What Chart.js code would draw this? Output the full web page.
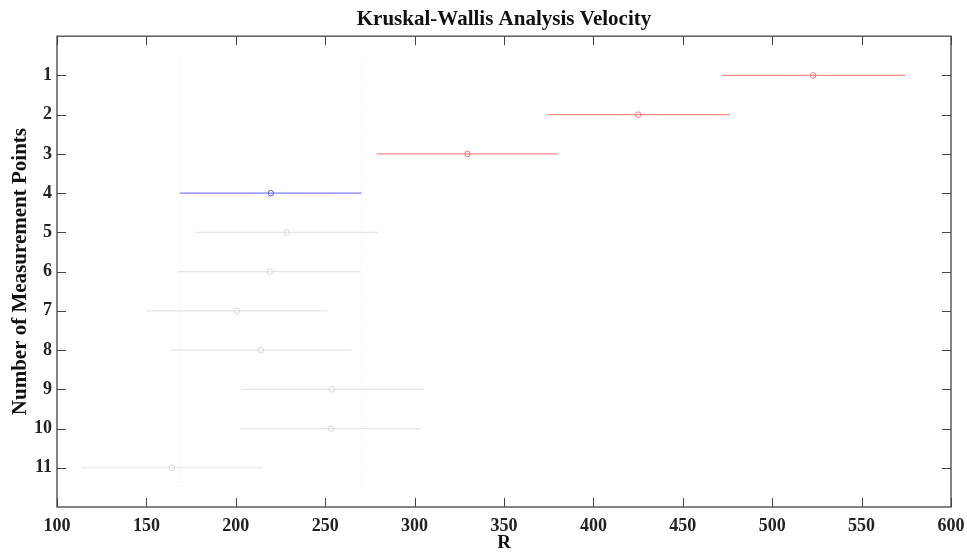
<!DOCTYPE html>
<html>
<head>
<meta charset="utf-8">
<script src="https://cdn.jsdelivr.net/npm/chart.js@4.4.1/dist/chart.umd.min.js"></script>
<style>
  html, body { margin: 0; padding: 0; background: #fff; }
  #wrap { width: 967px; height: 554px; }
</style>
</head>
<body>
<div id="wrap"><canvas id="kwChart" width="967" height="554"></canvas></div>
<script>
// groups (measurement points), top to bottom
const groups = [1, 2, 3, 4, 5, 6, 7, 8, 9, 10, 11];
// mean rank estimate and comparison interval for each group
const centers = [522.9, 425.1, 329.6, 219.6, 228.5, 219.0, 200.6, 214.0, 253.6, 253.1, 164.2];
const lowers  = [472.1, 374.3, 278.8, 168.7, 177.7, 167.6, 149.7, 163.1, 202.8, 202.2, 113.4];
const uppers  = [574.3, 476.5, 380.4, 270.4, 279.9, 269.8, 251.4, 264.8, 305.0, 304.0, 215.1];
// red = significantly different from the selected group, blue = selected, gray = not different
const status  = ['diff', 'diff', 'diff', 'sel', 'same', 'same', 'same', 'same', 'same', 'same', 'same'];
const selectedGroup = 4;
const xTicks = [100, 150, 200, 250, 300, 350, 400, 450, 500, 550, 600];

const colors = {
    diff: { line: '#ff8a8a', point: '#ff7070' },
    sel:  { line: '#7f7fff', point: '#5a5af0' },
    same: { line: '#e6e6e6', point: '#d6d6d6' }
};

const serif = '"Liberation Serif", "Times New Roman", serif';

// one dataset per group: lower end, center (circle), upper end
const datasets = groups.map((g, i) => {
    const c = colors[status[i]];
    return {
        type: 'line',
        data: [
            { x: lowers[i], y: g },
            { x: centers[i], y: g },
            { x: uppers[i], y: g }
        ],
        borderColor: c.line,
        borderWidth: 1.2,
        pointRadius: [0, 2.8, 0],
        pointBorderColor: c.point,
        pointBackgroundColor: 'rgba(0,0,0,0)',
        pointBorderWidth: 1,
        showLine: true,
        order: status[i] === 'same' ? 3 : 1
    };
});

// dotted vertical lines at the selected group's interval bounds
const si = groups.indexOf(selectedGroup);
[lowers[si], uppers[si]].forEach(v => {
    datasets.push({
        type: 'line',
        data: [{ x: v, y: 0.5 }, { x: v, y: 11.5 }],
        borderColor: '#e4e4e4',
        borderWidth: 1,
        borderDash: [1, 2],
        pointRadius: 0,
        order: 5
    });
});

// MATLAB style box with inward ticks on all four sides
const boxPlugin = {
    id: 'box',
    afterDraw(chart) {
        const { ctx, chartArea: a, scales } = chart;
        ctx.save();
        ctx.strokeStyle = '#444';
        ctx.lineWidth = 1.3;
        ctx.strokeRect(a.left, a.top, a.right - a.left, a.bottom - a.top);
        ctx.lineWidth = 1;
        ctx.beginPath();
        const len = 9;
        xTicks.forEach(v => {
            const px = Math.round(scales.x.getPixelForValue(v)) + 0.5;
            ctx.moveTo(px, a.bottom); ctx.lineTo(px, a.bottom - len);
            ctx.moveTo(px, a.top); ctx.lineTo(px, a.top + len);
        });
        groups.forEach(g => {
            const py = Math.round(scales.y.getPixelForValue(g)) + 0.5;
            ctx.moveTo(a.left, py); ctx.lineTo(a.left + len, py);
            ctx.moveTo(a.right, py); ctx.lineTo(a.right - len, py);
        });
        ctx.stroke();
        ctx.restore();
    }
};

new Chart(document.getElementById('kwChart').getContext('2d'), {
    type: 'scatter',
    data: { datasets },
    options: {
        responsive: false,
        animation: false,
        layout: { padding: 0 },
        plugins: {
            legend: { display: false },
            tooltip: { enabled: false },
            title: {
                display: true,
                fullSize: false,
                text: 'Kruskal-Wallis Analysis Velocity',
                color: '#111',
                font: { family: serif, size: 21, weight: 'bold' },
                padding: { top: 7, bottom: 4 }
            }
        },
        scales: {
            x: {
                type: 'linear',
                min: 100,
                max: 600,
                afterBuildTicks: s => { s.ticks = xTicks.map(v => ({ value: v })); },
                afterFit: s => { s.height = 47; s.paddingLeft = 0; s.paddingRight = 16; },
                grid: { display: false, drawTicks: false },
                border: { display: false },
                ticks: {
                    color: '#222',
                    padding: 9,
                    font: { family: serif, size: 18, weight: 'bold' }
                },
                title: {
                    display: true,
                    text: 'R',
                    color: '#111',
                    font: { family: serif, size: 19, weight: 'bold' },
                    padding: { top: 0, bottom: 0 }
                }
            },
            y: {
                type: 'linear',
                reverse: true,
                min: 0,
                max: 12,
                afterBuildTicks: s => { s.ticks = groups.map(v => ({ value: v })); },
                afterFit: s => { s.width = 57; },
                grid: { display: false, drawTicks: false },
                border: { display: false },
                ticks: {
                    color: '#222',
                    padding: 5,
                    font: { family: serif, size: 18, weight: 'bold' }
                },
                title: {
                    display: true,
                    text: 'Number of Measurement Points',
                    color: '#111',
                    font: { family: serif, size: 21, weight: 'bold' },
                    padding: { top: 8, bottom: 0 }
                }
            }
        }
    },
    plugins: [boxPlugin]
});
</script>
</body>
</html>
